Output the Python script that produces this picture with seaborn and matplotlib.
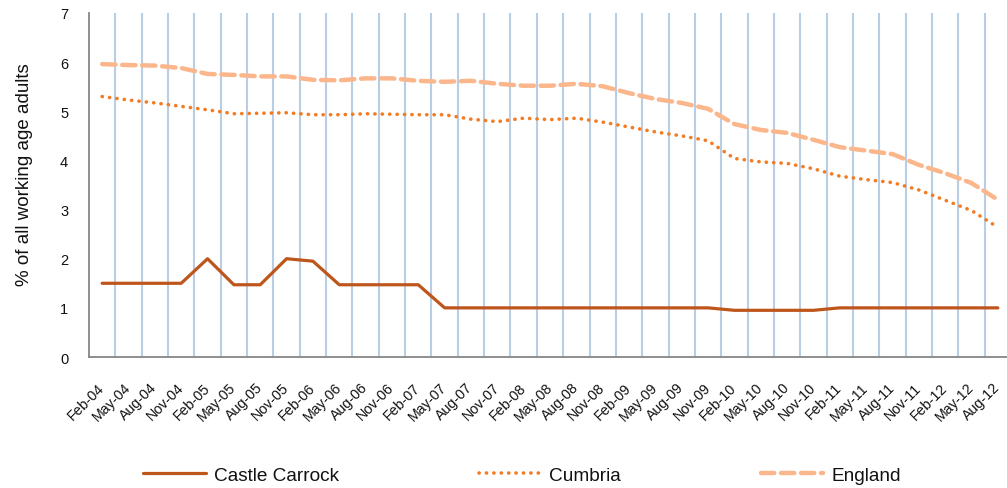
import matplotlib
matplotlib.use("Agg")
import matplotlib.pyplot as plt
import seaborn as sns
import pandas as pd
import numpy as np

months = ["Feb", "May", "Aug", "Nov"]
categories = []
for yr in range(4, 13):
    for m in months:
        if yr == 12 and m == "Nov":
            continue
        categories.append(f"{m}-{yr:02d}")

castle_carrock = [1.5, 1.5, 1.5, 1.5, 2.0, 1.47, 1.47, 2.0, 1.95, 1.47, 1.47, 1.47, 1.47,
                  1.0, 1.0, 1.0, 1.0, 1.0, 1.0, 1.0, 1.0, 1.0, 1.0, 1.0,
                  0.95, 0.95, 0.95, 0.95, 1.0, 1.0, 1.0, 1.0, 1.0, 1.0, 1.0]
cumbria = [5.30, 5.23, 5.17, 5.10, 5.03, 4.95, 4.96, 4.97, 4.93, 4.93, 4.95, 4.94, 4.93,
           4.93, 4.84, 4.79, 4.86, 4.83, 4.86, 4.78, 4.68, 4.58, 4.50, 4.40,
           4.04, 3.97, 3.94, 3.83, 3.68, 3.61, 3.55, 3.40, 3.19, 2.98, 2.64]
england = [5.96, 5.94, 5.93, 5.88, 5.76, 5.74, 5.71, 5.71, 5.64, 5.63, 5.67, 5.67, 5.62,
           5.60, 5.62, 5.56, 5.52, 5.52, 5.56, 5.51, 5.37, 5.25, 5.17, 5.05,
           4.74, 4.62, 4.56, 4.42, 4.27, 4.20, 4.13, 3.91, 3.74, 3.54, 3.20]
y_ticks = [0, 1, 2, 3, 4, 5, 6, 7]
series_names = ["Castle Carrock", "Cumbria", "England"]

sns.set_style("white")
plt.rcParams["font.family"] = ["Liberation Sans", "DejaVu Sans"]

fig = plt.figure(figsize=(10.07, 4.89), dpi=100)
ax = fig.add_axes([89/1007, 131/489, 922/1007, 344/489])

df = pd.DataFrame({"period": categories, "Castle Carrock": castle_carrock,
                   "Cumbria": cumbria, "England": england})

# vertical gridlines at category boundaries
for k in range(1, len(categories)):
    ax.axvline(k - 0.5, color="#B9CDE5", lw=1.5, zorder=0)

sns.lineplot(data=df, x="period", y="Castle Carrock", ax=ax, color="#BE561C",
             lw=2.3, sort=False, label="Castle Carrock", zorder=3)
sns.lineplot(data=df, x="period", y="Cumbria", ax=ax, color="#F37B22",
             lw=2.6, sort=False, label="Cumbria", zorder=3)
sns.lineplot(data=df, x="period", y="England", ax=ax, color="#FBB68B",
             lw=3.2, sort=False, label="England", zorder=2)

for l in ax.get_lines():
    if l.get_label() == "Cumbria":
        l.set_linestyle((0, (0.05, 2.0)))
        l.set_dash_capstyle("round")
    elif l.get_label() == "England":
        l.set_linestyle((0, (3.0, 1.5)))
        l.set_dash_capstyle("round")

ax.set_xlim(-0.5, len(categories) - 0.5)
ax.set_ylim(0, 7)
ax.set_yticks(y_ticks)
ax.set_xticks(range(len(categories)))
ax.set_xticklabels(categories, rotation=45, ha="right", va="center",
                   rotation_mode="anchor", fontsize=10.3, color="#111111")
ax.set_xticks(np.arange(0.5, len(categories) - 0.5, 1), minor=True)
ax.tick_params(axis="x", which="major", length=0, pad=20)
ax.tick_params(axis="x", which="minor", length=5, width=1.2, color="#868686")
ax.tick_params(axis="y", length=5, width=1.2, color="#868686", labelsize=10.5,
               labelcolor="#111111", pad=10)
ax.set_xlabel("")
ax.set_ylabel("% of all working age adults", fontsize=13.5, color="#111111")
ax.yaxis.set_label_coords(-0.061, 0.532)

for s in ["top", "right"]:
    ax.spines[s].set_visible(False)
for s in ["left", "bottom"]:
    ax.spines[s].set_color("#868686")
    ax.spines[s].set_linewidth(1.3)

ax.get_legend().remove()
handles = [l for l in ax.get_lines() if l.get_label() in series_names]
leg = fig.legend(handles, series_names, loc="center", bbox_to_anchor=(522/1007, 1 - 476/489),
                 ncol=3, frameon=False, fontsize=13.7, handlelength=3.3,
                 handletextpad=0.4, columnspacing=7.35)
for t in leg.get_texts():
    t.set_color("#111111")

fig.savefig("out.png", dpi=100)
